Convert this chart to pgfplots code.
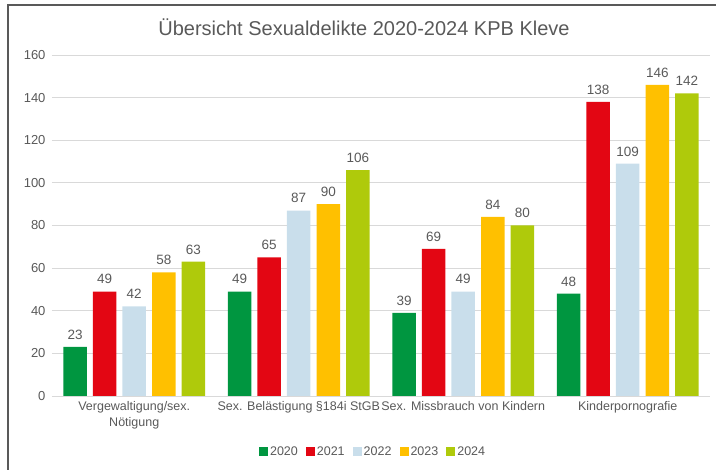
\documentclass[border=0pt]{standalone}
\usepackage{pgfplots}
\pgfplotsset{compat=1.18}
\usepackage{fontspec}
\setmainfont{Liberation Sans}
\definecolor{c20}{HTML}{009640}
\definecolor{c21}{HTML}{E30613}
\definecolor{c22}{HTML}{C9DEEB}
\definecolor{c23}{HTML}{FFC000}
\definecolor{c24}{HTML}{AFCA0B}
\definecolor{txt}{HTML}{595959}
\definecolor{gridc}{HTML}{D9D9D9}
\begin{document}
\begin{tikzpicture}
\path[use as bounding box, clip] (-52pt,-74pt) rectangle (664pt,396pt);
\draw[draw=black!65, line width=1.6pt] (-44pt,-90pt) -- (-44pt,391pt) -- (690pt,391pt);
\node[text=txt, font=\fontsize{20}{24}\selectfont] at (312pt,369pt) {Übersicht Sexualdelikte 2020-2024 KPB Kleve};
\begin{axis}[
  at={(0pt,0pt)}, anchor=south west,
  scale only axis, width=658pt, height=341pt,
  ybar=6.1pt, bar width=23.5pt,
  xmin=-0.5, xmax=3.5, ymin=0, ymax=160,
  xtick=data,
  xticklabels={{Vergewaltigung/sex.\\Nötigung}, {Sex. Belästigung §184i StGB}, {Sex. Missbrauch von Kindern}, {Kinderpornografie}},
  xticklabel style={align=center, text=txt, font=\fontsize{12.5}{16}\selectfont, yshift=-2pt},
  ytick={0,20,...,160},
  yticklabel style={text=txt, font=\fontsize{13}{15}\selectfont, xshift=-3pt},
  /pgf/number format/assume math mode=true,
  major tick length=0pt,
  axis line style={draw=none},
  ymajorgrids, xmajorgrids=false, grid style={draw=gridc, line width=0.8pt},
  nodes near coords,
  every node near coord/.append style={text=txt, font=\fontsize{13.5}{16}\selectfont, yshift=4pt},
  legend columns=5,
  legend style={at={(0.488,-0.164)}, anchor=center, draw=none, font=\fontsize{12.5}{15}\selectfont, text=txt,
    /tikz/every even column/.append style={column sep=6pt}},
  legend image code/.code={\fill[#1] (0pt,-4.5pt) rectangle (9pt,4.5pt);},
  clip=false,
]
\addplot[fill=c20, draw=none] coordinates {(0,23) (1,49) (2,39) (3,48)};
\addplot[fill=c21, draw=none] coordinates {(0,49) (1,65) (2,69) (3,138)};
\addplot[fill=c22, draw=none] coordinates {(0,42) (1,87) (2,49) (3,109)};
\addplot[fill=c23, draw=none] coordinates {(0,58) (1,90) (2,84) (3,146)};
\addplot[fill=c24, draw=none] coordinates {(0,63) (1,106) (2,80) (3,142)};
\legend{2020,2021,2022,2023,2024}
\end{axis}
\end{tikzpicture}
\end{document}
